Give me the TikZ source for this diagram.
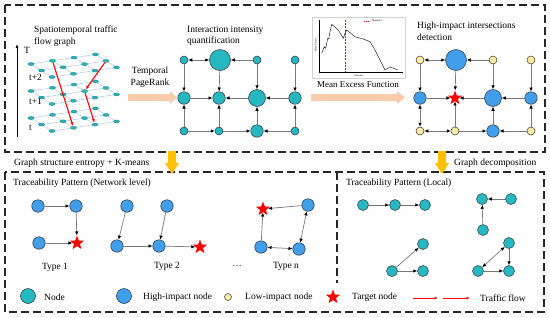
\documentclass[tikz,border=0pt]{standalone}
\usepackage{fontspec}
\setmainfont{Liberation Serif}
\usetikzlibrary{arrows.meta,shapes.geometric}
\definecolor{tealn}{RGB}{38,184,194}
\definecolor{bluen}{RGB}{64,158,234}
\definecolor{yellown}{RGB}{250,234,165}
\definecolor{peach}{RGB}{248,203,173}
\definecolor{gold}{RGB}{255,192,0}
\definecolor{gridblue}{RGB}{170,200,235}
\definecolor{edgegray}{RGB}{120,120,120}
\begin{document}
\begin{tikzpicture}[x=1pt,y=-1pt,font=\fontsize{9.5}{11.5}\selectfont,
  base/.style={circle,inner sep=0pt,draw=black!80,line width=0.5pt},
  tn/.style={base,fill=tealn},
  bn/.style={base,fill=bluen},
  yn/.style={base,fill=yellown},
  sS/.style={minimum size=8pt},
  sM/.style={minimum size=12.5pt},
  sL/.style={minimum size=17pt},
  sX/.style={minimum size=21pt},
  sP/.style={minimum size=11pt},
  tgt/.style={star,star points=5,star point ratio=2.4,fill=red,inner sep=0pt,minimum size=15pt},
  ed/.style={draw=edgegray,line width=0.7pt,-{Latex[length=4pt,width=3.5pt,color=black]}},
  ded/.style={draw=edgegray,line width=0.7pt,{Latex[length=4pt,width=3.5pt,color=black]}-{Latex[length=4pt,width=3.5pt,color=black]}},
  frame/.style={draw=black!85,line width=1.1pt,dash pattern=on 8pt off 4pt},
  lbl/.style={inner sep=0pt,align=left,anchor=north west},
  txt/.style={inner sep=0pt,anchor=west},
  redflow/.style={draw=red,line width=1.1pt,-{Latex[length=4pt,width=3pt]}},
  gridl/.style={draw=gridblue,line width=0.5pt},
  lnode/.style={ellipse,fill=tealn,draw=tealn!60!black,line width=0.3pt,minimum width=6pt,minimum height=3pt,inner sep=0pt},
  tiny/.style={inner sep=0.3pt,font=\fontsize{2.5}{3}\selectfont}]
\useasboundingbox (0,0) rectangle (550,317);
\fill[white] (0,0) rectangle (550,317);

% frames
\draw[frame] (5,5) rectangle (545,152);
\draw[frame] (5,172) rectangle (544,312);
\draw[frame] (337,172) -- (337,283);

% ---------- panel 1 ----------
\node[lbl] (p1t) at (34,26) {Spatiotemporal traffic\\flow graph};
\coordinate (tax0) at (17,137);
\coordinate (tax1) at (17,44);
\draw[line width=0.7pt,-{Latex[length=4pt,width=3pt]}] (tax0) -- (tax1);
\node[txt] (lT) at (24,50) {T};
\node[txt] (lt2) at (29,77) {t+2};
\node[txt] (lt1) at (29,101) {t+1};
\node[txt] (lt0) at (29,128) {t};
\foreach \L/\oy in {0/64,1/91,2/118}{
  \foreach \i in {0,...,3}{\foreach \j in {0,1,2}{
    \coordinate (c\L-\i-\j) at ({31+21.5*\i+10.5*\j},{\oy-3.2*\i+6.5*\j});
  }}
  \foreach \j in {0,1,2}{\draw[gridl] (c\L-0-\j) -- (c\L-3-\j);}
  \foreach \i in {0,...,3}{\draw[gridl] (c\L-\i-0) -- (c\L-\i-2);}
  \foreach \i in {0,...,3}{\foreach \j in {0,1,2}{
    \node[lnode] (n\L-\i-\j) at (c\L-\i-\j) {};
  }}
}
\draw[redflow] (n0-1-0) -- (n2-1-2);
\draw[redflow] (n0-3-1) -- (n1-2-1);
\draw[redflow] (n1-2-1) -- (n2-2-2);

% arrow 1
\node[inner sep=0pt,align=center,anchor=north] (tpr) at (150,67) {Temporal\\PageRank};
\fill[peach] (128,94) -- (170,94) -- (170,91) -- (177,97.5) -- (170,104) -- (170,101) -- (128,101) -- cycle;

% ---------- panel 2 ----------
\node[lbl] (p2t) at (187,26) {Interaction intensity\\quantification};
\node[tn,sS] (a1) at (184,60) {};
\node[tn,sX] (a2) at (220,60) {};
\node[tn,sS] (a3) at (257,60) {};
\node[tn,sS] (a4) at (295,60) {};
\node[tn,sM] (b1) at (184,98) {};
\node[tn,sM] (b2) at (219,98) {};
\node[tn,sL] (b3) at (257,98) {};
\node[tn,sM] (b4) at (295,98) {};
\node[tn,sS] (c1) at (184,131) {};
\node[tn,sS] (c2) at (219,131) {};
\node[tn,sM] (c3) at (257,131) {};
\node[tn,sS] (c4) at (295,131) {};
\draw[ded] (a1) -- (a2);
\draw[ed] (a3) -- (a2);
\draw[ed] (a1) -- (b1);
\draw[ed] (a2) -- (b2);
\draw[ed] (a3) -- (b3);
\draw[ed] (a4) -- (b4);
\draw[ed] (b1) -- (b2);
\draw[ed] (b3) -- (b2);
\draw[ed] (b4) -- (b3);
\draw[ed] (c1) -- (b1);
\draw[ed] (c2) -- (b2);
\draw[ed] (c3) -- (b3);
\draw[ed] (c4) -- (b4);
\draw[ed] (c1) -- (c2);
\draw[ed] (c2) -- (c3);
\draw[ed] (c4) -- (c3);

% ---------- MEF chart ----------
\draw[draw=gray!35,fill=white] (312,17) rectangle (405,78);
\draw[line width=0.4pt] (319,20) -- (319,72) -- (403,72);
\draw[red,line width=0.9pt,dash pattern=on 2pt off 1.2pt] (345,20) -- (345,72);
\draw[gray!30!black,line width=0.5pt] plot coordinates {(321.7,53.3) (324.3,46.7) (325.7,48.3) (327.7,38.3) (329,39) (329.3,35) (331.7,24.3) (338.3,30) (343.3,38.3) (345,33.3) (346.7,30) (355,36.7) (363.3,39) (370,41.7) (375,50) (385,70) (390,67) (398,70)};
\draw[red,line width=0.6pt,dash pattern=on 1.2pt off 0.8pt] (364,21) -- (370,21);
\node[tiny,anchor=west] (thr) at (371,21) {Threshold};
\node[tiny,rotate=90] (mex) at (315.5,45) {Mean Excess};
\node[tiny] (ints) at (359,75.5) {Intensity};

\node[inner sep=0pt,font=\fontsize{9}{11}\selectfont] (mef) at (358,85) {Mean Excess Function};
\fill[peach] (311,94) -- (397,94) -- (397,91) -- (405,97.5) -- (397,104) -- (397,101) -- (311,101) -- cycle;

% ---------- panel 4 ----------
\node[lbl] (p4t) at (417,22) {High-impact intersections\\detection};
\node[yn,sS] (d1) at (420,60) {};
\node[bn,sX] (d2) at (456,60) {};
\node[yn,sS] (d3) at (493,60) {};
\node[yn,sS] (d4) at (531,60) {};
\node[bn,sM] (e1) at (420,98) {};
\node[tgt] (e2) at (455,98) {};
\node[bn,sL] (e3) at (493,98) {};
\node[bn,sM] (e4) at (531,98) {};
\node[yn,sS] (f1) at (420,131) {};
\node[yn,sS] (f2) at (455,131) {};
\node[bn,sM] (f3) at (493,131) {};
\node[yn,sS] (f4) at (531,131) {};
\draw[ded] (d1) -- (d2);
\draw[ed] (d3) -- (d2);
\draw[ed] (d1) -- (e1);
\draw[ed] (d2) -- (e2);
\draw[ed] (d3) -- (e3);
\draw[ed] (d4) -- (e4);
\draw[ed] (e1) -- (e2);
\draw[ed] (e3) -- (e2);
\draw[ed] (e4) -- (e3);
\draw[ded] (e1) -- (f1);
\draw[ed] (f2) -- (e2);
\draw[ed] (f3) -- (e3);
\draw[ed] (f4) -- (e4);
\draw[ded] (f1) -- (f2);
\draw[ed] (f2) -- (f3);
\draw[ed] (f4) -- (f3);

% ---------- transition row ----------
\node[txt] (gse) at (14,163) {Graph structure entropy + K-means};
\node[txt] (gdc) at (454,163) {Graph decomposition};
\fill[gold] (168,151) -- (176,151) -- (176,163) -- (179,163) -- (172,174) -- (165,163) -- (168,163) -- cycle;
\fill[gold] (438,151) -- (446,151) -- (446,163) -- (449,163) -- (442,174) -- (435,163) -- (438,163) -- cycle;

% ---------- network level ----------
\node[txt] (tpn) at (13,183) {Traceability Pattern (Network level)};
\node[bn,sM] (t1a) at (38,206) {};
\node[bn,sM] (t1b) at (76,206) {};
\node[bn,sM] (t1c) at (39,243) {};
\node[tgt] (t1s) at (77,243) {};
\draw[ed] (t1a) -- (t1b);
\draw[ed] (t1b) -- (t1s);
\draw[ed] (t1c) -- (t1s);
\node[inner sep=0pt] (ty1) at (55,267) {Type 1};

\node[bn,sM] (t2a) at (127,206) {};
\node[bn,sM] (t2b) at (167,206) {};
\node[bn,sM] (t2c) at (117,246) {};
\node[bn,sM] (t2d) at (159,246) {};
\node[tgt] (t2s) at (200,247) {};
\draw[ed] (t2a) -- (t2c);
\draw[ed] (t2b) -- (t2d);
\draw[ed] (t2c) -- (t2d);
\draw[ed] (t2d) -- (t2s);
\node[inner sep=0pt] (ty2) at (167,266) {Type 2};

\node[tgt] (tns) at (263,209) {};
\node[bn,sM] (tna) at (308,205) {};
\node[bn,sM] (tnb) at (261,247) {};
\node[bn,sM] (tnc) at (299,249) {};
\draw[ed] (tna) -- (tns);
\draw[ed] (tnb) -- (tns);
\draw[ded] (tnb) -- (tnc);
\draw[ded] (tna) -- (tnc);
\node[inner sep=0pt] (dots) at (237,266) {\dots};
\node[inner sep=0pt] (tyn) at (286,266) {Type n};

% ---------- local ----------
\node[txt] (tpl) at (346,183) {Traceability Pattern (Local)};
\node[tn,sP] (l1) at (363,205) {};
\node[tn,sP] (l2) at (395,205) {};
\node[tn,sP] (l3) at (425,205) {};
\draw[ed] (l1) -- (l2);
\draw[ed] (l2) -- (l3);
\node[tn,sP] (m1) at (482,199) {};
\node[tn,sP] (m2) at (511,199) {};
\node[tn,sP] (m3) at (483,230) {};
\draw[ed] (m2) -- (m1);
\draw[ed] (m3) -- (m1);
\node[tn,sP] (v1) at (392,271) {};
\node[tn,sP] (v2) at (423,244) {};
\node[tn,sP] (v3) at (423,271) {};
\draw[ed] (v1) -- (v2);
\draw[ed] (v1) -- (v3);
\node[tn,sP] (w1) at (478,271) {};
\node[tn,sP] (w2) at (509,243) {};
\node[tn,sP] (w3) at (509,271) {};
\draw[ded] (w1) -- (w2);
\draw[ed] (w2) -- (w3);
\draw[ed] (w1) -- (w3);

% ---------- legend ----------
\node[tn,minimum size=15pt] (lg1) at (28,296) {};
\node[txt] (lgt1) at (44,297) {Node};
\node[bn,minimum size=15pt] (lg2) at (124,296) {};
\node[txt] (lgt2) at (143,297) {High-impact node};
\node[yn,minimum size=7pt] (lg3) at (228,297) {};
\node[txt] (lgt3) at (245,297) {Low-impact node};
\node[tgt] (lg4) at (333,297) {};
\node[txt] (lgt4) at (352,297) {Target node};
\coordinate (rf1) at (413,298);
\coordinate (rf2) at (438,298);
\coordinate (rf3) at (443,298);
\coordinate (rf4) at (470,298);
\draw[draw=red,line width=0.9pt,-{Latex[length=3.5pt,width=3pt]}] (rf1) -- (rf2);
\draw[draw=red,line width=0.9pt,-{Latex[length=3.5pt,width=3pt]}] (rf3) -- (rf4);
\node[txt] (lgt5) at (480,298) {Traffic flow};
\end{tikzpicture}
\end{document}
